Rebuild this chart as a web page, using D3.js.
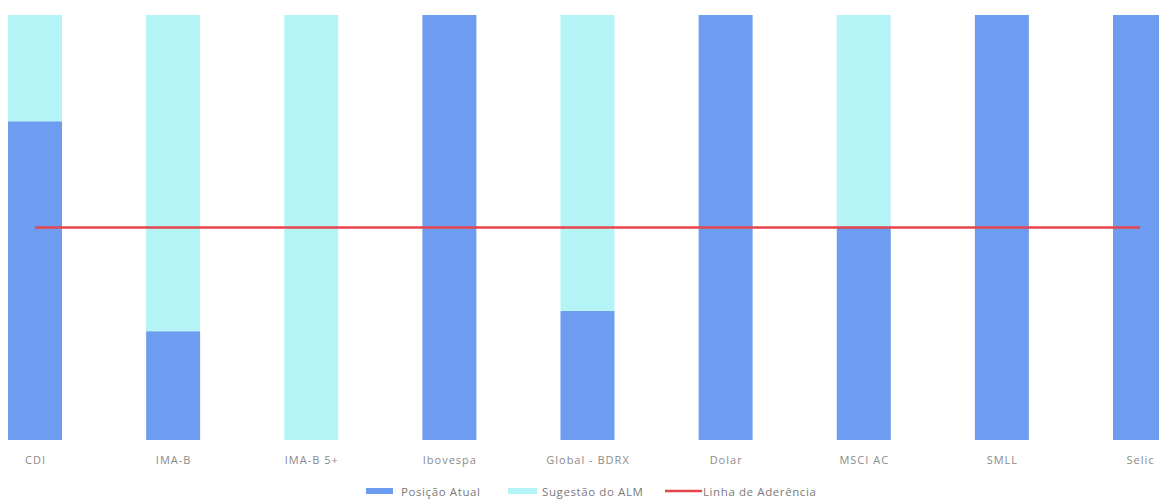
<!DOCTYPE html>
<html><head><meta charset="utf-8">
<script src="https://cdn.jsdelivr.net/npm/d3@7"></script>
<style>body{margin:0;background:#fff;}svg{display:block;}</style>
</head><body>
<svg id="c" width="1159" height="499"></svg>
<script>
const categories = ["CDI","IMA-B","IMA-B 5+","Ibovespa","Global - BDRX","Dolar","MSCI AC","SMLL","Selic"];
const posicaoAtual = [75, 25.6, 0, 100, 30.4, 100, 50, 100, 100];
const sugestaoALM = [25, 74.4, 100, 0, 69.6, 0, 50, 0, 0];
const linhaAderencia = [50, 50, 50, 50, 50, 50, 50, 50, 50];
const seriesNames = ["Posição Atual","Sugestão do ALM","Linha de Aderência"];

const svg = d3.select("#c");
const font = "'Open Sans', sans-serif";
const colors = {pos:"#6e9cf0", sug:"#b4f4f6", line:"#e8444c"};
const x = d3.scalePoint().domain(categories).range([35, 1140]);
const y = d3.scaleLinear().domain([0,100]).range([440, 15]);
const bw = 54;

const rows = categories.map((c,i)=>({c, p:posicaoAtual[i], s:sugestaoALM[i], l:linhaAderencia[i]}));

svg.append("g").selectAll("rect").data(rows).join("rect")
  .attr("x", d=>x(d.c)-bw/2).attr("width", bw)
  .attr("y", d=>y(d.p)).attr("height", d=>y(0)-y(d.p))
  .attr("fill", colors.pos);
svg.append("g").selectAll("rect").data(rows).join("rect")
  .attr("x", d=>x(d.c)-bw/2).attr("width", bw)
  .attr("y", d=>y(d.p+d.s)).attr("height", d=>y(d.p)-y(d.p+d.s))
  .attr("fill", colors.sug);

svg.append("path").datum(rows)
  .attr("d", d3.line().x(d=>x(d.c)).y(d=>y(d.l)))
  .attr("fill","none").attr("stroke", colors.line).attr("stroke-width", 2.5);

const ax = svg.append("g").attr("transform","translate(0,440)")
  .call(d3.axisBottom(x).tickSize(0).tickPadding(16));
ax.select(".domain").remove();
ax.selectAll("text").attr("font-family", font).attr("font-size", 11)
  .attr("letter-spacing", "1px").attr("fill", "#8a8a8a");

const lg = svg.append("g").attr("font-family", font).attr("font-size", 11.5)
  .attr("letter-spacing", "0.6px").attr("fill","#7a7a7a");
lg.append("rect").attr("x",366).attr("y",488).attr("width",27).attr("height",6).attr("fill",colors.pos);
lg.append("text").attr("x",401).attr("y",495.5).text(seriesNames[0]);
lg.append("rect").attr("x",508).attr("y",488).attr("width",29).attr("height",6).attr("fill",colors.sug);
lg.append("text").attr("x",542).attr("y",495.5).text(seriesNames[1]);
lg.append("line").attr("x1",665).attr("x2",702).attr("y1",491).attr("y2",491).attr("stroke",colors.line).attr("stroke-width",2.5);
lg.append("text").attr("x",703).attr("y",495.5).text(seriesNames[2]);
</script>
</body></html>
